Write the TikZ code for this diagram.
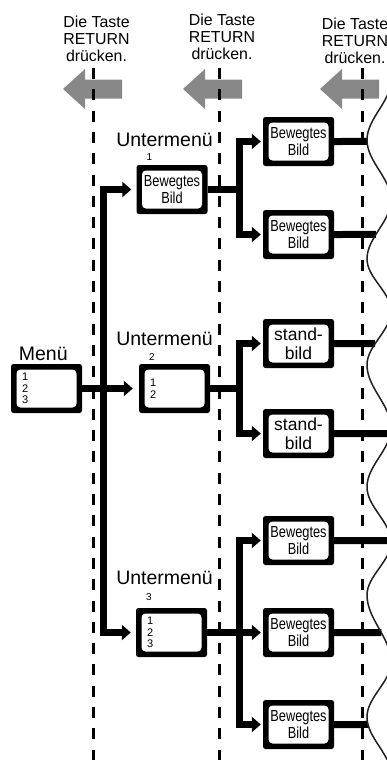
\documentclass[tikz,border=0pt]{standalone}
\usepackage{fontspec}
\setmainfont{Liberation Sans}
\newfontfamily\narrowfont{Liberation Sans}[FakeStretch=0.8]
\usetikzlibrary{arrows.meta,intersections,calc}
\definecolor{arrowgray}{RGB}{136,136,136}
\definecolor{wavecol}{RGB}{35,31,32}
\def\wvpath{(391,80) .. controls (391,101.8) and (367,118.2) .. (367,140)
 .. controls (367,161.8) and (391,178.2) .. (391,200)
 .. controls (391,221.5) and (367,237.5) .. (367,259)
 .. controls (367,277.9) and (391,292.1) .. (391,311)
 .. controls (391,330.7) and (367,345.3) .. (367,365)
 .. controls (367,387.9) and (391,405.1) .. (391,428)
 .. controls (391,449.5) and (367,465.5) .. (367,487)
 .. controls (367,507) and (391,522) .. (391,542)
 .. controls (391,561.3) and (367,575.7) .. (367,595)
 .. controls (367,619.4) and (391,637.6) .. (391,662)
 .. controls (391,682) and (367,697) .. (367,717)
 .. controls (367,738.1) and (391,753.9) .. (391,775)}
\begin{document}
\begin{tikzpicture}[x=1pt,y=-1pt,
  >={Triangle[length=9pt,width=15pt]},
  conn/.style={line width=7pt, line join=miter, line cap=butt},
  dashln/.style={line width=3pt, dash pattern=on 11pt off 10.3pt},
  wave/.style={line width=1.5pt, draw=wavecol},
  box/.style={fill=black, rounded corners=2.5pt, minimum width=71pt, minimum height=49pt,
    inner sep=0pt, align=center,
    path picture={\fill[white, rounded corners=4pt]
      ([shift={(5.5pt,5.5pt)}]path picture bounding box.south west) rectangle
      ([shift={(-5.5pt,-5.5pt)}]path picture bounding box.north east);}},
  hdr/.style={font=\fontsize{15.9}{17}\selectfont, align=center, inner sep=0pt, anchor=north},
  lbl/.style={font=\fontsize{19.5}{20}\selectfont, inner sep=0pt},
  sml/.style={font=\fontsize{10}{11}\selectfont, inner sep=0pt},
  bw/.style={font=\narrowfont\fontsize{16}{17.5}\selectfont},
  sb/.style={font=\fontsize{17.5}{18.5}\selectfont},
  dg/.style={font=\fontsize{11}{11.6}\selectfont, align=left, text width=49pt},
  grayarr/.pic={\fill[arrowgray] (0,0) -- (22,-20) -- (22,-9.5) -- (59,-9.5) -- (59,9.5) -- (22,9.5) -- (22,20) -- cycle;}
]
\useasboundingbox (0,0) rectangle (387,760);
\clip (0,0) rectangle (387,760);
\fill[white] (0,0) rectangle (387,760);

% header texts
\node[hdr] (h1) at (96.5,16) {Die Taste\\RETURN\\drücken.};
\node[hdr] (h2) at (222,13.5) {Die Taste\\RETURN\\drücken.};
\node[hdr] (h3) at (355,18) {Die Taste\\RETURN\\drücken.};

% gray arrows
\pic at (63,89) {grayarr};
\pic at (183,89) {grayarr};
\pic at (320,89) {grayarr};

% dashed guide lines
\coordinate (d1t) at (93,68);  \coordinate (d1b) at (93,765);
\coordinate (d2t) at (219,68); \coordinate (d2b) at (219,765);
\coordinate (d3t) at (362,68); \coordinate (d3b) at (362,765);
\draw[dashln] (d1t) -- (d1b);
\draw[dashln] (d2t) -- (d2b);
\draw[dashln] (d3t) -- (d3b);

% boxes
\node[box, dg] (menu) at (46.5,388.5) {1\\2\\3};
\node[box, bw] (u1) at (172,189.5) {Bewegtes\\Bild};
\node[box, dg] (u2) at (174.5,388.5) {1\\2};
\node[box, dg] (u3) at (171.5,632.5) {1\\2\\3};
\node[box, bw] (r1) at (298.5,141.5) {Bewegtes\\Bild};
\node[box, bw] (r2) at (298.5,234.5) {Bewegtes\\Bild};
\node[box, sb] (r3) at (298.5,343.5) {stand-\\bild};
\node[box, sb] (r4) at (298.5,433.5) {stand-\\bild};
\node[box, bw] (r5) at (298.5,540.5) {Bewegtes\\Bild};
\node[box, bw] (r6) at (298.5,632.5) {Bewegtes\\Bild};
\node[box, bw] (r7) at (298.5,724.5) {Bewegtes\\Bild};

% labels
\node[lbl] (menulbl) at (43.3,353.5) {Menü};
\node[lbl] (ul1) at (164.5,140) {Untermenü};
\node[sml] (n1) at (149.3,157) {1};
\node[lbl] (ul2) at (164.5,339) {Untermenü};
\node[sml] (n2) at (152,357) {2};
\node[lbl] (ul3) at (164.5,578) {Untermenü};
\node[sml] (n3) at (149,597) {3};

% connectors
\coordinate (xfork) at (239,0);
\draw[conn,<->] ([xshift=-5pt]u1.west) -- ++(-27.5,0) |- ([xshift=-5pt]u3.west);
\draw[conn,->] (menu.east) -- ([xshift=-6pt]u2.west);

\draw[conn,<->] ([xshift=-2pt]r1.west) -| (u1.east -| xfork) |- ([xshift=-2pt]r2.west);
\draw[conn] (u1.east) -- (u1.east -| xfork);

\draw[conn,<->] ([xshift=-2pt]r3.west) -| (u2.east -| xfork) |- ([xshift=-2pt]r4.west);
\draw[conn] (u2.east) -- (u2.east -| xfork);

\draw[conn,<->] ([xshift=-2pt]r5.west) -| (u3.east -| xfork) |- ([xshift=-2pt]r7.west);
\draw[conn,->] (u3.east) -- ([xshift=-2pt]r6.west);

% lines to the wave
\path[name path=wavep] \wvpath;
\foreach \r in {r1,r2,r3,r4,r5,r6,r7}{
  \path[name path=hh] (\r.east) -- ++(70,0);
  \draw[conn, name intersections={of=wavep and hh}] (\r.east) -- (intersection-1);
}
\draw[wave] \wvpath;
\end{tikzpicture}
\end{document}
